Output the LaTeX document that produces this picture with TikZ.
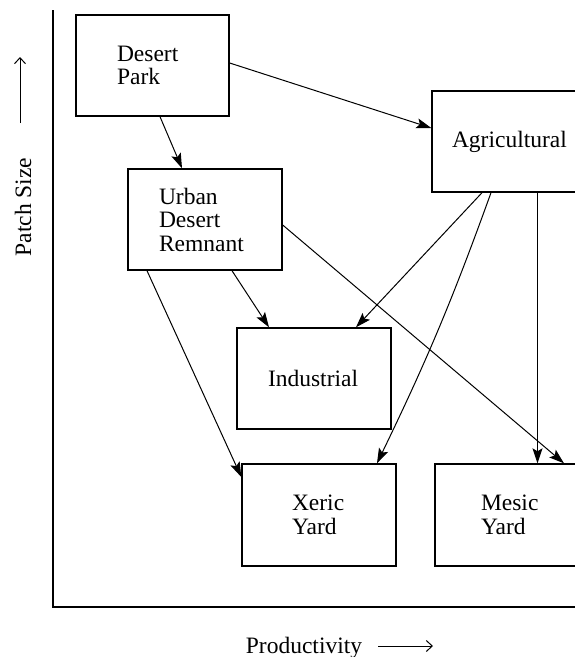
\documentclass[tikz,border=0pt]{standalone}
\usepackage{fontspec}
\setmainfont{Liberation Serif}
\usetikzlibrary{arrows.meta,calc}
\begin{document}
\begin{tikzpicture}[x=1pt,y=-1pt,
  box/.style={draw,line width=1.4pt,minimum width=154pt,minimum height=101pt,
    inner xsep=0pt,inner ysep=0pt,align=left,
    font=\fontsize{23.5}{23.5}\selectfont},
  conn/.style={line width=1pt,-{Stealth[length=15pt,width=10pt,inset=3pt]}},
  axis/.style={line width=1.4pt},
  ax arrow/.style={line width=1pt,-{Straight Barb[length=6pt,width=11pt]}},
  lbl/.style={font=\fontsize{23.5}{23.5}\selectfont,inner sep=0pt}]
\clip (0,0) rectangle (575,657);
% axes
\coordinate (top) at (53,10);
\coordinate (origin) at (53,607);
\coordinate (right) at (600,607);
\draw[axis] (top) -- (origin) -- (right);
% axis labels
\node[lbl,rotate=90] (ps) at (23,207) {Patch Size};
\coordinate (ya) at (20,123);
\coordinate (yb) at (20,57);
\draw[ax arrow] (ya) -- (yb);
\node[lbl,anchor=base] (pr) at (304,653) {Productivity};
\coordinate (xa) at (378,646);
\coordinate (xb) at (433,646);
\draw[ax arrow] (xa) -- (xb);
% boxes
\node[box,minimum width=153pt,text width=71pt] (dp) at (152.5,65.5) {Desert\\Park};
\node[box,text width=92pt] (ur) at (205,219.5) {Urban\\Desert\\Remnant};
\node[box,text width=114pt] (ag) at (509,141.5) {Agricultural};
\node[box,text width=92pt] (in) at (314,378.5) {Industrial};
\node[box,minimum height=102pt,text width=54pt] (xe) at (319,515) {Xeric\\Yard};
\node[box,minimum height=102pt,text width=62pt] (me) at (512,515) {Mesic\\Yard};
% connectors
\draw[conn] ([yshift=2.5pt]dp.east) -- ([yshift=13.5pt]ag.west);
\draw[conn] ([xshift=7.5pt]dp.south) -- ([xshift=-23pt]ur.north);
\draw[conn] ([yshift=-5.5pt]ur.east) -- ([xshift=52pt]me.north);
\draw[conn] ([xshift=27pt]ur.south) -- ([xshift=-45pt]in.north);
\draw[conn] ([xshift=-58pt]ur.south) -- ([yshift=38pt]xe.west);
\draw[conn] ([xshift=-27pt]ag.south) -- ([xshift=42pt]in.north);
\draw[conn] ([xshift=-18pt]ag.south) to[bend left=3] ([xshift=58pt]xe.north);
\draw[conn] ([xshift=28.5pt]ag.south) -- ([xshift=25.5pt]me.north);
\end{tikzpicture}
\end{document}
